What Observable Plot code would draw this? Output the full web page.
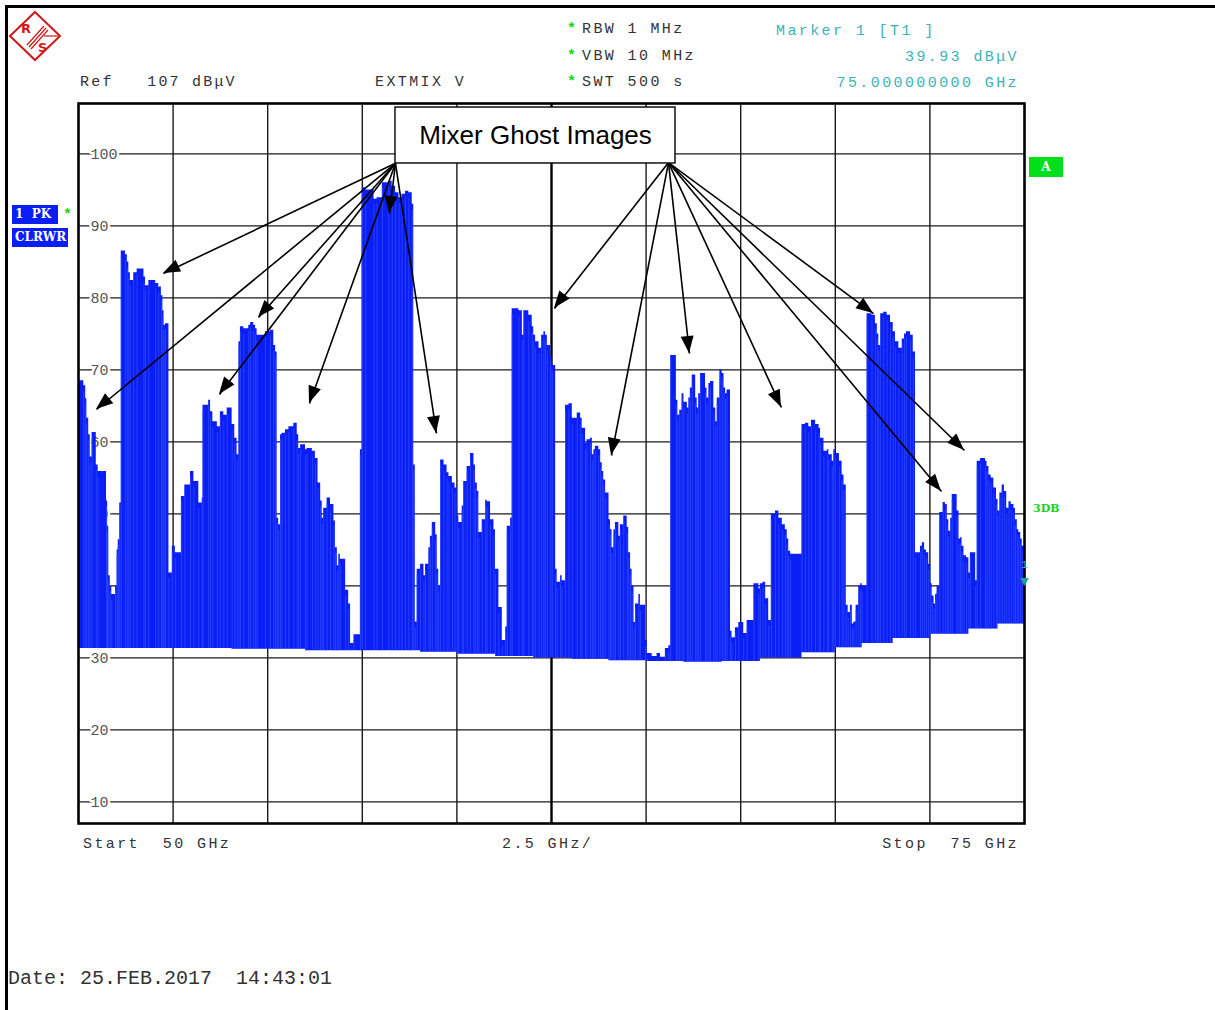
<!DOCTYPE html>
<html><head><meta charset="utf-8">
<script src="https://cdn.jsdelivr.net/npm/d3@7"></script>
<script src="https://cdn.jsdelivr.net/npm/@observablehq/plot@0.6"></script>
<style>
html,body{margin:0;padding:0;background:#fff;overflow:hidden;}
#page{position:relative;width:1215px;height:1010px;overflow:hidden;}
#chart{position:absolute;left:0;top:0;}
.t{position:absolute;font-family:"Liberation Mono",monospace;font-size:15px;line-height:15px;letter-spacing:2.4px;color:#333;white-space:pre;}
.teal{color:#3cb4b4;}
.star{color:#19d419;font-weight:bold;letter-spacing:0;}
.bx{position:absolute;background:#0a1ef5;color:#fff;font-family:"DejaVu Serif",serif;font-weight:bold;font-size:12px;line-height:19px;padding-left:3px;white-space:pre;}
</style></head>
<body><div id="page">
<div id="chart"></div>
<div style="position:absolute;left:5px;top:5px;width:1210px;height:3px;background:#000"></div>
<div style="position:absolute;left:5px;top:5px;width:3px;height:1005px;background:#000"></div>
<svg style="position:absolute;left:0;top:0" width="70" height="70">
  <polygon points="35,12 60,36 35,60 10,36" fill="none" stroke="#d01818" stroke-width="2"/>
  <g stroke="#d01818" stroke-width="1.2">
    <line x1="27" y1="45" x2="44" y2="26"/><line x1="29" y1="47" x2="46" y2="28"/>
    <line x1="31" y1="49" x2="48" y2="30"/><line x1="44" y1="36" x2="58" y2="36"/>
  </g>
  <text x="21" y="33" font-family="DejaVu Sans" font-weight="bold" font-size="13" fill="#d01818">R</text>
  <text x="38" y="52" font-family="DejaVu Sans" font-weight="bold" font-size="13" fill="#d01818">S</text>
</svg>
<div class="t" style="left:80px;top:75px;letter-spacing:2.2px">Ref   107 dBμV</div>
<div class="t" style="left:375px;top:75px">EXTMIX V</div>
<div class="t star" style="left:567px;top:22px">*</div>
<div class="t star" style="left:567px;top:49px">*</div>
<div class="t star" style="left:567px;top:75px">*</div>
<div class="t" style="left:582px;top:22px">RBW 1 MHz</div>
<div class="t" style="left:582px;top:49px">VBW 10 MHz</div>
<div class="t" style="left:582px;top:75px">SWT 500 s</div>
<div class="t teal" style="left:776px;top:24px">Marker 1 [T1 ]</div>
<div class="t teal" style="right:196px;top:50px">39.93 dBμV</div>
<div class="t teal" style="right:196px;top:76px">75.000000000 GHz</div>
<div class="t" style="left:83px;top:837px">Start  50 GHz</div>
<div class="t" style="left:502px;top:837px">2.5 GHz/</div>
<div class="t" style="right:196px;top:837px">Stop  75 GHz</div>
<div class="t" style="left:8px;top:969px;font-size:20px;line-height:20px;letter-spacing:0">Date: 25.FEB.2017  14:43:01</div>
<div class="bx" style="left:12px;top:205px;width:43px;height:19px">1  PK</div>
<div class="t star" style="left:63px;top:208px">*</div>
<div class="bx" style="left:12px;top:228px;width:53px;height:19px">CLRWR</div>
<div style="position:absolute;left:1029px;top:157px;width:34px;height:20px;background:#00e01a;color:#fff;font-family:'DejaVu Serif',serif;font-weight:bold;font-size:12px;line-height:20px;text-align:center">A</div>
<div style="position:absolute;left:1033px;top:502px;color:#19d419;font-family:'DejaVu Serif',serif;font-weight:bold;font-size:11px;line-height:14px">3DB</div>
</div>
<script>
// ---- data ----
const xGrid = [52.5, 55, 57.5, 60, 65, 67.5, 70, 72.5];
const xCenter = [62.5];
const yGrid = [10, 20, 30, 40, 50, 60, 70, 80, 90, 100];
// noise floor (GHz, dBuV)
const floorLevels = [[50,31.3],[54,31.2],[56,31.0],[59,30.8],[60,30.5],[61,30.2],[62,30.0],[63,29.8],[64,29.6],[65,29.5],[66,29.4],[67,29.5],[68,30.0],[69,30.7],[70,31.4],[70.7,32.0],[71.5,32.7],[72.5,33.3],[73.5,34.0],[74.3,34.7]];
// peak envelope of spur comb (GHz, dBuV), stepwise
const traceLow = [
[50.00,68.5],[50.14,67.8],[50.19,66.0],[50.22,63.3],[50.27,61.0],[50.31,57.9],[50.36,61.3],[50.47,56.8],[50.52,55.9],[50.74,51.8],[50.77,48.3],[50.80,41.4],[50.84,40.0],[50.88,38.8],[50.98,40.0],[51.02,45.0],[51.05,46.4],[51.09,51.5],
[51.13,86.5],[51.24,86.0],[51.29,85.0],[51.33,83.5],[51.37,82.4],[51.46,83.5],[51.55,84.0],[51.73,82.9],[51.77,81.7],[51.86,82.4],[52.04,82.0],[52.12,81.5],[52.19,80.3],[52.23,78.2],[52.26,76.2],[52.30,76.4],
[52.39,41.8],[52.48,45.5],[52.56,44.6],[52.72,52.4],[52.81,54.0],[52.96,55.9],[53.05,54.5],[53.18,51.5],[53.27,52.2],
[53.29,65.1],[53.44,65.8],[53.49,64.2],[53.55,62.8],[53.67,62.1],[53.75,64.2],[53.84,63.7],[53.93,64.7],[54.06,62.4],[54.13,60.5],[54.19,58.2],
[54.24,73.9],[54.28,76.0],[54.37,75.7],[54.50,76.2],[54.55,76.6],[54.63,76.2],[54.68,75.7],[54.72,74.8],[54.94,75.3],[55.07,75.5],[55.16,73.4],[55.21,72.5],
[55.25,49.4],[55.29,48.5],[55.34,61.0],[55.38,61.2],[55.47,61.7],[55.56,62.1],[55.69,62.6],[55.78,61.0],[55.82,59.1],[55.87,59.6],[56.00,58.9],[56.04,59.1],[56.18,58.7],[56.26,57.7],[56.33,54.3],[56.40,51.8],[56.44,49.4],[56.48,50.8],[56.57,52.2],[56.66,51.3],[56.75,49.0],[56.79,45.3],[56.84,42.8],[56.88,44.4],[56.92,43.7],[57.06,39.4],[57.14,37.5],[57.19,32.0],[57.28,33.2],
[57.45,58.9],[57.50,95.3],[57.59,95.0],[57.81,93.7],[57.89,93.9],[58.03,96.0],[58.20,96.2],[58.29,95.5],[58.38,94.6],[58.47,93.9],[58.55,94.4],[58.64,94.8],[58.73,94.6],[58.82,93.0],[58.86,56.8],[58.90,35.0],
[58.95,42.3],[59.04,43.0],[59.13,41.4],[59.17,43.0],[59.26,45.3],[59.30,46.9],[59.35,48.8],[59.44,47.1],[59.48,42.3],[59.52,40.0],
[59.57,57.5],[59.66,56.8],[59.74,55.7],[59.79,55.2],[59.88,54.3],[59.95,53.6],[60.01,49.7],[60.05,48.8],[60.14,51.1],[60.18,54.5],[60.27,56.6],[60.36,58.4],[60.45,56.8],[60.49,54.3],[60.54,53.1],[60.58,47.4],[60.67,49.2],[60.76,51.9],[60.80,51.7],[60.89,49.2],[60.98,47.8],[61.02,42.3],[61.11,37.0],[61.20,32.4],[61.29,34.3],[61.33,48.3],[61.42,49.4],
[61.46,78.5],[61.64,78.2],[61.73,74.8],[61.77,78.2],[61.90,77.6],[61.99,76.0],[62.03,74.8],[62.08,73.9],[62.17,73.0],[62.24,74.8],[62.30,75.3],[62.34,74.8],[62.39,73.4],[62.48,72.0],[62.52,70.6],
[62.61,42.3],[62.65,40.5],[62.74,41.4],[62.78,40.7]
];
const traceHigh = [
[62.87,65.1],[62.96,65.3],[63.05,63.3],[63.18,64.0],[63.27,63.3],[63.31,61.9],[63.40,59.8],[63.44,60.3],[63.53,60.5],[63.58,58.2],[63.62,58.9],[63.66,59.4],[63.75,58.9],[63.80,57.1],[63.84,55.9],[63.88,54.7],[63.93,52.9],[64.02,49.2],[64.06,47.8],[64.10,45.3],[64.15,47.8],[64.19,48.8],[64.28,46.9],[64.32,48.5],[64.41,49.7],[64.50,48.1],[64.54,44.6],[64.59,42.3],[64.63,40.0],[64.68,34.9],[64.72,37.5],[64.81,38.8],[64.85,37.3],[64.99,32.4],[65.03,30.6],[65.16,30.2],[65.29,30.6],[65.38,30.1],[65.51,31.3],[65.60,31.7],
[65.65,72.0],[65.80,65.8],[65.84,63.7],[65.89,64.4],[65.95,66.7],[66.00,65.5],[66.09,64.7],[66.13,66.1],[66.17,67.5],[66.22,69.3],[66.31,66.1],[66.35,64.7],[66.39,66.7],[66.44,69.5],[66.57,67.5],[66.61,66.1],[66.66,68.1],[66.70,68.4],[66.79,64.7],[66.84,62.8],[66.88,66.1],[66.95,70.0],[67.01,69.5],[67.06,67.5],[67.10,66.7],[67.14,67.2],
[67.23,33.7],[67.27,32.8],[67.36,34.2],[67.45,34.9],[67.58,33.4],[67.67,35.2],[67.85,40.3],[67.98,39.6],[68.02,40.3],[68.09,40.5],[68.16,38.2],[68.24,35.2],
[68.31,50.0],[68.42,50.4],[68.51,49.4],[68.60,48.5],[68.68,47.8],[68.73,46.5],[68.77,44.8],[68.82,44.4],
[69.12,62.4],[69.21,62.6],[69.30,62.1],[69.37,63.0],[69.48,62.4],[69.57,61.9],[69.61,60.5],[69.70,58.7],[69.79,58.9],[69.83,58.2],[69.92,57.3],[69.96,58.9],[70.00,58.4],[70.11,57.3],[70.18,55.4],[70.23,54.0],
[70.29,37.3],[70.34,36.3],[70.40,37.3],[70.45,34.7],[70.49,35.0],[70.55,37.3],[70.62,40.0],[70.67,40.3],[70.71,40.0],
[70.84,77.8],[70.97,77.6],[71.06,76.4],[71.11,75.0],[71.15,73.4],[71.20,77.8],[71.28,78.0],[71.37,77.6],[71.46,76.6],[71.53,75.3],[71.59,73.9],[71.68,73.0],[71.77,74.3],[71.83,75.0],[71.88,75.3],[71.99,74.8],[72.06,72.5],
[72.12,44.6],[72.25,45.5],[72.30,46.0],[72.36,45.0],[72.41,44.6],[72.47,43.0],[72.52,40.3],[72.56,38.6],[72.61,37.5],[72.65,38.8],[72.69,40.0],
[72.76,50.2],[72.85,51.6],[72.91,51.3],[72.96,49.2],[73.00,47.6],[73.05,49.4],[73.09,52.7],[73.22,50.4],[73.27,46.5],[73.31,46.7],[73.35,45.5],[73.40,44.2],[73.47,43.9],[73.53,41.8],[73.57,44.6],[73.71,40.7],
[73.75,57.3],[73.84,57.7],[73.97,57.3],[74.01,56.6],[74.06,55.4],[74.12,55.0],[74.19,53.6],[74.26,52.0],[74.30,50.4],[74.35,52.9],[74.41,54.0],[74.47,53.1],[74.53,50.8],[74.59,51.7],[74.65,51.3],[74.72,50.8],[74.76,49.2],[74.81,47.8],[74.85,47.4],[74.90,46.5],[74.94,45.5],[75.00,45.5]
];
// marker 1
const marker = [{f: 75, db: 39.93, label: "1"}];
// annotation: box (GHz, dBuV) and arrow targets
const ghostLabel = "Mixer Ghost Images";
const ghostBox = {f1: 58.377, f2: 65.777, db1: 98.67, db2: 106.44};
const originLeft = [58.377, 98.7];
const originRight = [65.592, 98.8];
const targetsLeft = [[52.246,83.39],[50.476,64.5],[54.757,77.28],[53.726,66.58],[56.105,65.33],[58.219,91.72],[59.461,61.17]];
const targetsRight = [[62.579,78.53],[64.086,58.11],[66.147,72.28],[68.578,64.78],[71.01,77.83],[72.806,53.11],[73.414,58.81]];

// ---- build ----
function floorAt(f) { let v = floorLevels[0][1]; for (const [g, l] of floorLevels) if (g <= f) v = l; return v; }
const trace = traceLow.concat(traceHigh).map(([f, db]) => ({f, db, base: floorAt(f)}));
const arrows = targetsLeft.map(([f, db]) => ({f0: originLeft[0], db0: originLeft[1], f, db}))
  .concat(targetsRight.map(([f, db]) => ({f0: originRight[0], db0: originRight[1], f, db})));
const blue = "#0a1ef5";
const mono = "Liberation Mono, monospace";

const chart = Plot.plot({
  width: 1215, height: 1010,
  marginLeft: 78, marginRight: 191, marginTop: 103, marginBottom: 187,
  x: {domain: [50, 75], axis: null},
  y: {domain: [7, 107], axis: null},
  style: {background: "transparent", overflow: "visible"},
  marks: [
    Plot.ruleY(yGrid, {stroke: "#1a1a1a", strokeWidth: 1.4}),
    Plot.ruleX(xGrid, {stroke: "#1a1a1a", strokeWidth: 1.4}),
    Plot.ruleX(xCenter, {stroke: "#000", strokeWidth: 2.4}),
    Plot.text(yGrid, {x: 50, y: d => d, text: d => String(d), dx: 12, textAnchor: "start", fill: "#555", stroke: "white", strokeWidth: 5, fontSize: 15, fontFamily: mono}),
    Plot.areaY(trace, {x: "f", y1: "base", y2: "db", curve: "step-after", fill: blue}),
    Plot.ruleX(trace, {x: "f", y1: "base", y2: d => Math.max(d.base, d.db - 0.8), stroke: "#3550ff", strokeWidth: 0.7}),
    Plot.frame({stroke: "#000", strokeWidth: 2.6}),
    Plot.link(arrows, {x1: "f0", y1: "db0", x2: "f", y2: "db", stroke: "#000", strokeWidth: 1.6}),
    Plot.rect([ghostBox], {x1: "f1", x2: "f2", y1: "db1", y2: "db2", fill: "white", stroke: "#000", strokeWidth: 1.4}),
    Plot.text([ghostBox], {x: d => (d.f1 + d.f2) / 2, y: d => (d.db1 + d.db2) / 2, text: () => ghostLabel, fontSize: 26, fontFamily: "Liberation Sans, Arial, sans-serif", fill: "#000"}),
    Plot.text(marker, {x: "f", y: "db", text: () => "▼", fill: "#1aa0a0", fontSize: 14, dy: -5}),
    Plot.text(marker, {x: "f", y: "db", text: "label", fill: "#3cb4b4", fontSize: 11, fontFamily: mono, dy: -22})
  ]
});
document.getElementById("chart").appendChild(chart);

// filled arrowheads placed through the plot's own scales
const sx = chart.scale("x"), sy = chart.scale("y");
const heads = d3.select(chart).append("g").attr("fill", "#000");
for (const a of arrows) {
  const x1 = sx.apply(a.f0), y1 = sy.apply(a.db0), x2 = sx.apply(a.f), y2 = sy.apply(a.db);
  const ang = Math.atan2(y2 - y1, x2 - x1), L = 17, W = 6.5;
  const bx = x2 - L * Math.cos(ang), by = y2 - L * Math.sin(ang);
  const px = -Math.sin(ang) * W, py = Math.cos(ang) * W;
  heads.append("polygon").attr("points", `${x2},${y2} ${bx + px},${by + py} ${bx - px},${by - py}`);
}
</script>
</body></html>
